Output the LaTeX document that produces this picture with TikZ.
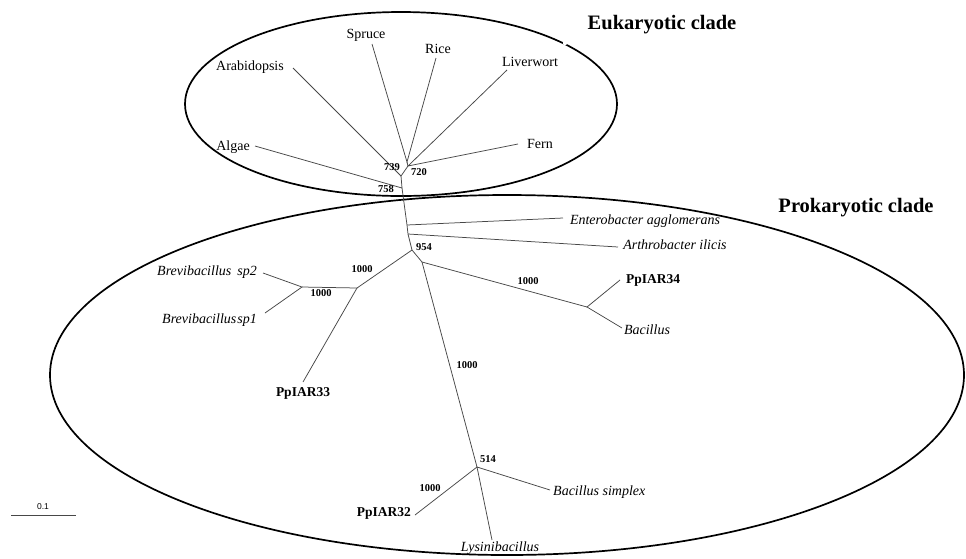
\documentclass[tikz,border=0pt]{standalone}
\usepackage{fontspec}
\setmainfont{Liberation Serif}
\newfontfamily\barfont{Liberation Sans}
\begin{document}
\begin{tikzpicture}[x=1pt,y=-1pt,
  br/.style={draw=black!72, line width=0.75pt},
  clade/.style={draw=black, line width=1.7pt},
  leaf/.style={font=\fontsize{14}{16}\selectfont, inner sep=0pt},
  leafit/.style={font=\fontsize{14}{16}\selectfont\itshape, inner sep=0pt},
  strain/.style={font=\fontsize{13.5}{16}\selectfont\bfseries, inner sep=0pt},
  boot/.style={font=\fontsize{10.5}{12}\selectfont\bfseries, inner sep=0pt},
  cladetitle/.style={font=\fontsize{20.5}{24}\selectfont\bfseries, inner sep=0pt}]
\useasboundingbox[fill=white] (0,0) rectangle (966,558);

% clade ellipses
\draw[clade] (401,104) ellipse [x radius=216pt, y radius=92pt];
\fill[white] (565,43) circle (2.2pt);
\draw[clade] (507,375) ellipse [x radius=457pt, y radius=180pt];

% titles
\node[cladetitle] (euk) at (662,25) {Eukaryotic clade};
\node[cladetitle] (pro) at (856,208) {Prokaryotic clade};

% internal nodes
\coordinate (nSR) at (407,162);
\coordinate (n720) at (408,166);
\coordinate (n739) at (401,176);
\coordinate (n758) at (402,188);
\coordinate (nE) at (407,225);
\coordinate (nA) at (408,234);
\coordinate (n954) at (412,250);
\coordinate (nB) at (357,288);
\coordinate (nB2) at (302,287);
\coordinate (nL) at (422,262);
\coordinate (nP34) at (587,307);
\coordinate (n514) at (477,467);

% leaf ends
\coordinate (eSpruce) at (372,44);
\coordinate (eRice) at (436,58);
\coordinate (eLiver) at (507,70);
\coordinate (eFern) at (518,144);
\coordinate (eArab) at (293,68);
\coordinate (eAlgae) at (255,146);
\coordinate (eEnt) at (563,218);
\coordinate (eArt) at (618,247);
\coordinate (eP34) at (620,280);
\coordinate (eBac) at (622,328);
\coordinate (eSp2) at (263,273);
\coordinate (eSp1) at (265,313);
\coordinate (eP33) at (303,382);
\coordinate (eSimp) at (550,490);
\coordinate (eLys) at (492,540);
\coordinate (eP32) at (415,515);

% branches
\draw[br] (eSpruce) -- (nSR) -- (eRice);
\draw[br] (nSR) -- (n720);
\draw[br] (eLiver) -- (n720) -- (eFern);
\draw[br] (n720) -- (n739) -- (eArab);
\draw[br] (n739) -- (n758) -- (eAlgae);
\draw[br] (n758) -- (nE) -- (nA) -- (n954);
\draw[br] (nE) -- (eEnt);
\draw[br] (nA) -- (eArt);
\draw[br] (n954) -- (nB) -- (nB2);
\draw[br] (eSp2) -- (nB2) -- (eSp1);
\draw[br] (nB) -- (eP33);
\draw[br] (n954) -- (nL) -- (nP34);
\draw[br] (eP34) -- (nP34) -- (eBac);
\draw[br] (nL) -- (n514);
\draw[br] (eSimp) -- (n514) -- (eLys);
\draw[br] (n514) -- (eP32);

% leaf labels
\node[leaf] (lSpruce) at (366,35) {Spruce};
\node[leaf] (lRice) at (438,49) {Rice};
\node[leaf] (lLiver) at (530,62) {Liverwort};
\node[leaf] (lFern) at (540,144) {Fern};
\node[leaf] (lArab) at (250,67) {Arabidopsis};
\node[leaf] (lAlgae) at (233,147) {Algae};
\node[leafit] (lEnt) at (645,221) {Enterobacter agglomerans};
\node[leafit] (lArt) at (675,245) {Arthrobacter ilicis};
\node[strain] (lP34) at (653,280) {PpIAR34};
\node[leafit] (lBac) at (647,330) {Bacillus};
\node[leafit, anchor=east] (lSp2) at (257,272) {Brevibacillus\hspace{6pt}sp2};
\node[leafit, anchor=east] (lSp1) at (257,320) {Brevibacillus\hspace{1pt}sp1};
\node[strain] (lP33) at (303,393) {PpIAR33};
\node[leafit, anchor=west] (lSimp) at (553,492) {Bacillus simplex};
\node[leafit] (lLys) at (500,548) {Lysinibacillus};
\node[strain, anchor=east] (lP32) at (411,513) {PpIAR32};

% bootstrap values
\node[boot] (b739) at (392,167) {739};
\node[boot] (b720) at (419,172) {720};
\node[boot] (b758) at (386,189) {758};
\node[boot] (b954) at (424,247) {954};
\node[boot] (bB1) at (362,269) {1000};
\node[boot] (bB2) at (321,293) {1000};
\node[boot] (bP34) at (528,281) {1000};
\node[boot] (bL) at (467,365) {1000};
\node[boot] (b514) at (488,459) {514};
\node[boot] (bP32) at (430,488) {1000};

% scale bar
\coordinate (sbL) at (11,515);
\coordinate (sbR) at (76,515);
\draw[draw=black!72, line width=0.9pt] (sbL) -- (sbR);
\node[font=\barfont\fontsize{8.5}{10}\selectfont, inner sep=0pt] (sb) at (43,507) {0.1};
\end{tikzpicture}
\end{document}
